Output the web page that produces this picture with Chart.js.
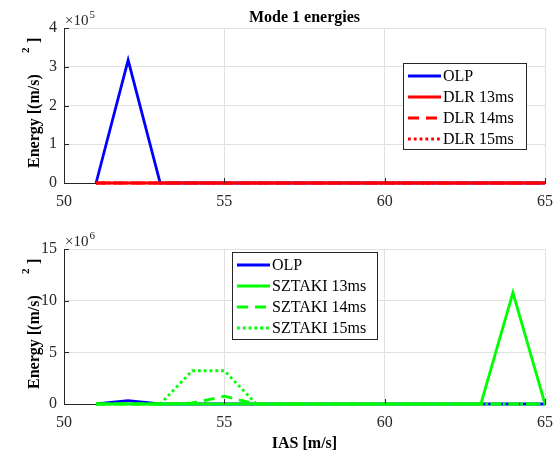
<!DOCTYPE html>
<html>
<head>
<meta charset="utf-8">
<script src="https://cdn.jsdelivr.net/npm/chart.js@4.4.1/dist/chart.umd.min.js"></script>
<style>
  html, body { margin: 0; padding: 0; background: #fff; }
  #wrap { position: relative; width: 554px; height: 457px; }
  canvas { position: absolute; left: 0; }
</style>
</head>
<body>
<div id="wrap">
  <canvas id="top" width="554" height="228" style="top:0"></canvas>
  <canvas id="bottom" width="554" height="229" style="top:228px"></canvas>
</div>
<script>
// IAS [m/s]
const ias = [ 51, 52, 53, 54, 55, 56, 57, 58, 59, 60, 61, 62, 63, 64, 65 ]

// Mode 1 energies, (m/s)^2
const olp      = [ 0, 317000, 0, 0, 0, 0, 0, 0, 0, 0, 0, 0, 0, 0, 0 ]
const dlr13    = [ 0, 0, 0, 0, 0, 0, 0, 0, 0, 0, 0, 0, 0, 0, 0 ]
const dlr14    = [ 0, 0, 0, 0, 0, 0, 0, 0, 0, 0, 0, 0, 0, 0, 0 ]
const dlr15    = [ 0, 0, 0, 0, 0, 0, 0, 0, 0, 0, 0, 0, 0, 0, 0 ]
const sztaki13 = [ 0, 0, 0, 0, 0, 0, 0, 0, 0, 0, 0, 0, 0, 10780000, 0 ]
const sztaki14 = [ 0, 0, 0, 100000, 750000, 0, 0, 0, 0, 0, 0, 0, 0, 0, 0 ]
const sztaki15 = [ 0, 0, 0, 3220000, 3220000, 0, 0, 0, 0, 0, 0, 0, 0, 0, 0 ]

const xTicks = [ 50, 55, 60, 65 ]

const FONT = '"Liberation Serif", "Times New Roman", serif'
const DARK = '#262626'
const GRID = '#e0e0e0'
const LW = 2.8
const DASHED = [ 11, 7 ]
const DOTTED = [ 2.8, 3 ]

const pts = ( ys ) => ys.map( ( y, i ) => ( { x: ias[ i ], y } ) )

const line = ( label, ys, color, dash, order ) => ( {
  label,
  data: pts( ys ),
  borderColor: color,
  borderWidth: LW,
  borderDash: dash,
  borderJoinStyle: 'miter',
  pointRadius: 0,
  tension: 0,
  fill: false,
  clip: 3,
  order
} )

const deco = {
  id: 'deco',
  afterDraw( chart, args, o ) {
    const { ctx, chartArea: a, scales } = chart
    ctx.save( )

    // inward tick marks
    ctx.strokeStyle = DARK
    ctx.lineWidth = 1
    scales.x.ticks.forEach( t => {
      const px = Math.round( scales.x.getPixelForValue( t.value ) ) + 0.5
      ctx.beginPath( ); ctx.moveTo( px, a.bottom ); ctx.lineTo( px, a.bottom - 5 ); ctx.stroke( )
    } )
    scales.y.ticks.forEach( t => {
      const py = Math.round( scales.y.getPixelForValue( t.value ) ) + 0.5
      ctx.beginPath( ); ctx.moveTo( a.left, py ); ctx.lineTo( a.left + 5, py ); ctx.stroke( )
    } )

    ctx.fillStyle = '#000'
    // title
    if ( o.title ) {
      ctx.font = 'bold 16px ' + FONT
      ctx.textAlign = 'center'
      ctx.textBaseline = 'alphabetic'
      ctx.fillText( o.title, ( a.left + a.right ) / 2, a.top - 6 )
    }

    // exponent
    ctx.fillStyle = DARK
    ctx.textAlign = 'left'
    ctx.font = '15px ' + FONT
    ctx.fillText( '\u00d710', a.left + 1, a.top - 3 )
    const w10 = ctx.measureText( '\u00d710' ).width
    ctx.font = '11px ' + FONT
    ctx.fillText( o.exp, a.left + 2 + w10, a.top - 10 )

    // y label
    ctx.fillStyle = '#000'
    ctx.save( )
    ctx.translate( 39, a.bottom - 15 )
    ctx.rotate( -Math.PI / 2 )
    ctx.font = 'bold 16px ' + FONT
    ctx.fillText( 'Energy [(m/s)', 0, 0 )
    ctx.font = 'bold 11px ' + FONT
    ctx.fillText( '2', 115, -10 )
    ctx.font = 'bold 16px ' + FONT
    ctx.fillText( ']', 125, 0 )
    ctx.restore( )

    // legend
    const L = o.legend
    ctx.fillStyle = '#fff'
    ctx.fillRect( L.x, L.y, L.w, L.h )
    ctx.strokeStyle = DARK
    ctx.lineWidth = 1
    ctx.strokeRect( L.x + 0.5, L.y + 0.5, L.w, L.h )
    ctx.font = '16px ' + FONT
    ctx.textBaseline = 'middle'
    chart.data.datasets.forEach( ( ds, i ) => {
      const y = L.y + 13 + i * 21
      ctx.strokeStyle = ds.borderColor
      ctx.lineWidth = LW
      ctx.setLineDash( ds.borderDash || [ ] )
      ctx.beginPath( ); ctx.moveTo( L.x + 5, y ); ctx.lineTo( L.x + 38, y ); ctx.stroke( )
      ctx.setLineDash( [ ] )
      ctx.fillStyle = '#000'
      ctx.fillText( ds.label, L.x + 40, y + 1 )
    } )

    ctx.restore( )
  }
}

const options = ( yMax, yStep, yDiv, padTop, xHeight, xTitle, deco ) => ( {
  responsive: false,
  animation: false,
  events: [ ],
  layout: { padding: { top: padTop, right: 9, left: 0, bottom: 0 } },
  plugins: { legend: { display: false }, tooltip: { enabled: false }, deco },
  scales: {
    x: {
      type: 'linear', min: 50, max: 65,
      afterBuildTicks: ( s ) => { s.ticks = xTicks.map( v => ( { value: v } ) ) },
      grid: { color: GRID, drawTicks: false },
      border: { color: DARK },
      ticks: { color: DARK, font: { family: FONT, size: 16 }, padding: 9, maxRotation: 0 },
      title: xTitle ? { display: true, text: xTitle, color: '#000', font: { family: FONT, size: 16, weight: 'bold' }, padding: { top: 0, bottom: 4 } } : { display: false },
      afterFit: ( s ) => { s.height = xHeight; s.paddingRight = 0; s.paddingLeft = 0 }
    },
    y: {
      min: 0, max: yMax,
      grid: { color: GRID, drawTicks: false },
      border: { color: DARK },
      ticks: { stepSize: yStep, color: DARK, font: { family: FONT, size: 16 }, padding: 7, callback: ( v ) => v / yDiv },
      afterFit: ( s ) => { s.width = 64; s.paddingTop = 0; s.paddingBottom = 0 }
    }
  }
} )

new Chart( document.getElementById( 'top' ), {
  type: 'line',
  data: {
    datasets: [
      line( 'OLP', olp, '#0000ff', [ ], 4 ),
      line( 'DLR 13ms', dlr13, '#ff0000', [ ], 3 ),
      line( 'DLR 14ms', dlr14, '#ff0000', DASHED, 2 ),
      line( 'DLR 15ms', dlr15, '#ff0000', DOTTED, 1 )
    ]
  },
  options: options( 400000, 100000, 100000, 28, 45, null,
    { title: 'Mode 1 energies', exp: '5', legend: { x: 403, y: 63, w: 123, h: 86 } } ),
  plugins: [ deco ]
} )

new Chart( document.getElementById( 'bottom' ), {
  type: 'line',
  data: {
    datasets: [
      line( 'OLP', olp, '#0000ff', [ ], 4 ),
      line( 'SZTAKI 13ms', sztaki13, '#00ff00', [ ], 3 ),
      line( 'SZTAKI 14ms', sztaki14, '#00ff00', DASHED, 2 ),
      line( 'SZTAKI 15ms', sztaki15, '#00ff00', DOTTED, 1 )
    ]
  },
  options: options( 15000000, 5000000, 1000000, 21, 53, 'IAS [m/s]',
    { title: null, exp: '6', legend: { x: 232, y: 24, w: 145, h: 87 } } ),
  plugins: [ deco ]
} )
</script>
</body>
</html>
